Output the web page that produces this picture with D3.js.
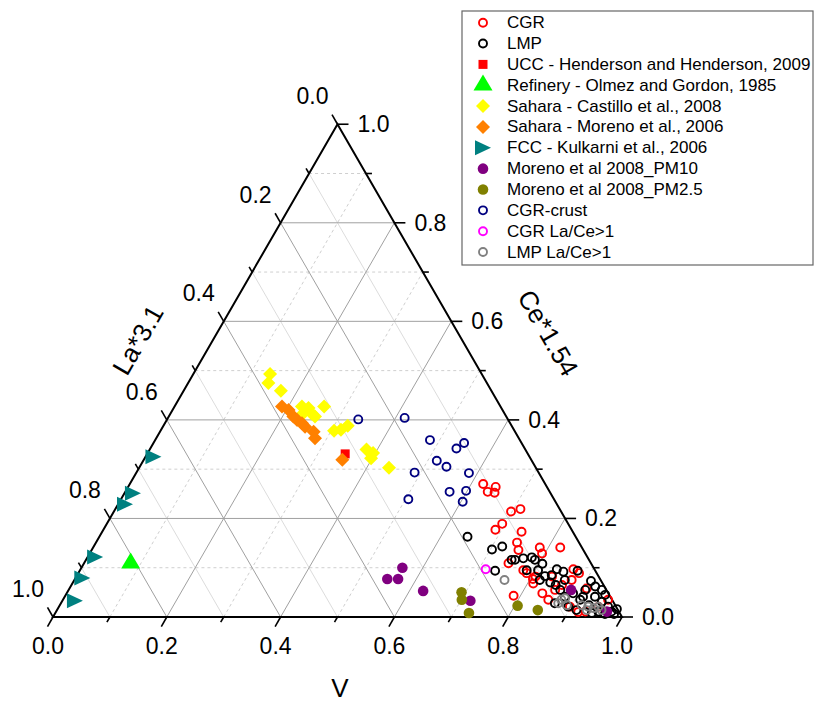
<!DOCTYPE html>
<html lang="en">
<head>
<meta charset="utf-8">
<title>Ternary plot V - Ce - La</title>
<script src="https://d3js.org/d3.v7.min.js"></script>
<style>
  body { margin: 0; background: #fff; }
  text { font-family: Arial, "Liberation Sans", sans-serif; fill: #000; }
</style>
</head>
<body>
<div id="chart"></div>
<script>
// axis ticks
var majorTicks = [0, 0.2, 0.4, 0.6, 0.8, 1.0];
var minorTicks = [0.1, 0.3, 0.5, 0.7, 0.9];
var tickLabels = ["0.0", "0.2", "0.4", "0.6", "0.8", "1.0"];

// every point is [V, Ce*1.54, La*3.1]
var cgr = [
  [0.621,0.270,0.109],[0.637,0.254,0.109],[0.646,0.264,0.090],[0.650,0.252,0.098],
  [0.698,0.214,0.088],[0.712,0.219,0.069],[0.695,0.189,0.116],[0.689,0.177,0.134],
  [0.737,0.173,0.090],[0.740,0.151,0.109],[0.750,0.136,0.114],[0.785,0.141,0.074],
  [0.795,0.129,0.076],[0.821,0.141,0.038],[0.746,0.109,0.145],[0.807,0.082,0.111],
  [0.779,0.095,0.126],[0.810,0.068,0.122],[0.836,0.048,0.116],[0.788,0.043,0.169],
  [0.866,0.097,0.037],[0.880,0.089,0.031],[0.874,0.075,0.051],[0.909,0.058,0.033],
  [0.898,0.021,0.081],[0.930,0.011,0.059],[0.948,0.021,0.031],[0.836,0.082,0.082],
  [0.788,0.089,0.123],[0.805,0.077,0.118],[0.855,0.055,0.090],[0.862,0.065,0.073],
  [0.853,0.035,0.112],[0.918,0.010,0.072],[0.958,0.035,0.007]
];
var lmp = [
  [0.647,0.163,0.190],[0.703,0.137,0.160],[0.718,0.143,0.139],[0.730,0.094,0.176],
  [0.754,0.116,0.130],[0.767,0.119,0.114],[0.781,0.121,0.098],[0.789,0.116,0.095],
  [0.806,0.108,0.086],[0.785,0.095,0.120],[0.805,0.095,0.100],[0.823,0.083,0.094],
  [0.839,0.070,0.091],[0.837,0.097,0.066],[0.851,0.092,0.057],[0.862,0.075,0.063],
  [0.851,0.065,0.084],[0.875,0.094,0.031],[0.909,0.073,0.018],[0.890,0.048,0.062],
  [0.911,0.041,0.048],[0.932,0.041,0.027],[0.949,0.031,0.020],[0.965,0.021,0.014],
  [0.976,0.011,0.013],[0.879,0.041,0.080],[0.868,0.028,0.104],[0.895,0.021,0.084],
  [0.913,0.014,0.073],[0.943,0.008,0.049],[0.953,0.011,0.036],[0.818,0.075,0.107],
  [0.834,0.085,0.081],[0.748,0.116,0.136],[0.908,0.055,0.037],[0.948,0.045,0.007],
  [0.983,0.006,0.011],[0.967,0.006,0.027],[0.983,0.016,0.001],[0.909,0.035,0.056],
  [0.930,0.024,0.046],[0.864,0.055,0.081],[0.937,0.055,0.008],[0.922,0.062,0.016]
];
var ucc = [[0.348,0.331,0.321]];
var refinery = [[0.082,0.109,0.809]];
var saharaCastillo = [
  [0.135,0.493,0.372],[0.141,0.475,0.384],[0.171,0.459,0.370],[0.224,0.427,0.349],
  [0.237,0.424,0.339],[0.248,0.413,0.339],[0.257,0.407,0.336],[0.263,0.427,0.310],
  [0.305,0.378,0.317],[0.316,0.380,0.304],[0.324,0.388,0.288],[0.381,0.340,0.279],
  [0.396,0.333,0.271],[0.398,0.322,0.280],[0.439,0.303,0.258],[0.233,0.413,0.354]
];
var saharaMoreno = [
  [0.189,0.427,0.384],[0.204,0.420,0.376],[0.219,0.407,0.374],[0.241,0.393,0.366],
  [0.250,0.386,0.364],[0.270,0.376,0.354],[0.279,0.363,0.358],[0.349,0.319,0.332],
  [0.229,0.400,0.371]
];
var fcc = [
  [0.014,0.325,0.661],[0.015,0.251,0.734],[0.012,0.229,0.759],
  [0.013,0.122,0.865],[0.012,0.079,0.909],[0.022,0.033,0.945]
];
var pm10 = [
  [0.564,0.100,0.336],[0.549,0.077,0.374],[0.568,0.077,0.355],[0.624,0.053,0.323],
  [0.717,0.033,0.250],[0.883,0.055,0.062],[0.968,0.011,0.021]
];
var pm25 = [
  [0.693,0.050,0.257],[0.701,0.035,0.264],[0.727,0.008,0.265],
  [0.805,0.023,0.172],[0.845,0.014,0.141]
];
var cgrCrust = [
  [0.336,0.401,0.263],[0.416,0.404,0.180],[0.483,0.359,0.158],[0.538,0.342,0.120],
  [0.546,0.353,0.101],[0.516,0.317,0.167],[0.539,0.305,0.156],[0.489,0.293,0.218],
  [0.585,0.292,0.123],[0.570,0.254,0.176],[0.598,0.256,0.146],[0.603,0.234,0.163],
  [0.505,0.239,0.256]
];
var cgrLaCe = [[0.712,0.097,0.191]];
var lmpLaCe = [
  [0.756,0.075,0.169],[0.876,0.035,0.089],[0.881,0.038,0.081],[0.874,0.028,0.098],
  [0.930,0.021,0.049],[0.941,0.018,0.041],[0.948,0.021,0.031],[0.957,0.014,0.029],
  [0.931,0.014,0.055],[0.917,0.024,0.059],[0.891,0.024,0.085]
];

var seriesNames = ["CGR", "LMP", "UCC - Henderson and Henderson, 2009",
  "Refinery - Olmez and Gordon, 1985", "Sahara - Castillo et al., 2008",
  "Sahara - Moreno et al., 2006", "FCC - Kulkarni et al., 2006",
  "Moreno et al 2008_PM10", "Moreno et al 2008_PM2.5", "CGR-crust",
  "CGR La/Ce>1", "LMP La/Ce>1"];
var seriesData = [cgr, lmp, ucc, refinery, saharaCastillo, saharaMoreno, fcc,
  pm10, pm25, cgrCrust, cgrLaCe, lmpLaCe];

// marker style per series
var styles = [
  {shape: "open", color: "#ff0000"},
  {shape: "open", color: "#000000"},
  {shape: "square", color: "#ff0000"},
  {shape: "triUp", color: "#00ff00"},
  {shape: "diamond", color: "#ffff00"},
  {shape: "diamond", color: "#ff8000"},
  {shape: "triRight", color: "#008080"},
  {shape: "dot", color: "#800080"},
  {shape: "dot", color: "#808000"},
  {shape: "open", color: "#000080"},
  {shape: "open", color: "#ff00ff"},
  {shape: "open", color: "#808080"}
];

var width = 816, height = 702;
var x0 = 53, y0 = 617, side = 569, tri = side * Math.sqrt(3) / 2;

var xScale = d3.scaleLinear().domain([0, 1]).range([x0, x0 + side]);
var yScale = d3.scaleLinear().domain([0, 1]).range([y0, y0 - tri]);

// ternary -> screen
function pos(v, c) { return [xScale(v + c / 2), yScale(c)]; }

var svg = d3.select("#chart").append("svg")
  .attr("width", width).attr("height", height);

var line = d3.line();

// grid
var grid = svg.append("g");
var allTicks = minorTicks.concat([0.2, 0.4, 0.6, 0.8]);
allTicks.forEach(function (t) {
  var major = majorTicks.indexOf(t) >= 0;
  // constant V
  grid.append("path")
    .attr("d", line([pos(t, 0), pos(t, 1 - t)]))
    .attr("stroke", major ? "#a0a0a0" : "#cfcfcf")
    .attr("stroke-dasharray", major ? null : "3,3");
  // constant Ce
  grid.append("path")
    .attr("d", line([pos(0, t), pos(1 - t, t)]))
    .attr("stroke", major ? "#a0a0a0" : "#cfcfcf")
    .attr("stroke-dasharray", major ? null : "3,3");
  // constant La
  grid.append("path")
    .attr("d", line([pos(0, 1 - t), pos(1 - t, 0)]))
    .attr("stroke", major ? "#a0a0a0" : "#dcdcdc");
});
grid.selectAll("path").attr("fill", "none").attr("stroke-width", 1);

// axes
var axes = svg.append("g").attr("stroke", "#000").attr("fill", "none");
axes.append("path")
  .attr("d", line([pos(0, 0), pos(1, 0), pos(0, 1)]) + "Z")
  .attr("stroke-width", 2);

var dirBottom = [-0.5, 0.866], dirLeft = [-0.5, -0.866], dirRight = [1, 0];
function tick(p, d, len) {
  axes.append("path")
    .attr("d", line([p, [p[0] + d[0] * len, p[1] + d[1] * len]]))
    .attr("stroke-width", 1.6);
}
majorTicks.forEach(function (t) {
  tick(pos(t, 0), dirBottom, 11);
  tick(pos(1 - t, t), dirRight, 11);
  tick(pos(0, 1 - t), dirLeft, 11);
});
minorTicks.forEach(function (t) {
  tick(pos(t, 0), dirBottom, 6);
  tick(pos(1 - t, t), dirRight, 6);
  tick(pos(0, 1 - t), dirLeft, 6);
});

// tick labels
var labels = svg.append("g").attr("font-size", 23);
majorTicks.forEach(function (t, i) {
  var b = pos(t, 0);
  labels.append("text").attr("x", b[0] - 5).attr("y", b[1] + 29)
    .attr("text-anchor", "middle").attr("dominant-baseline", "central")
    .text(tickLabels[i]);
  var r = pos(1 - t, t);
  labels.append("text").attr("x", r[0] + 20).attr("y", r[1])
    .attr("text-anchor", "start").attr("dominant-baseline", "central")
    .text(tickLabels[i]);
  var l = pos(0, 1 - t);
  labels.append("text").attr("x", l[0] - 25).attr("y", l[1] - 28)
    .attr("text-anchor", "middle").attr("dominant-baseline", "central")
    .text(tickLabels[i]);
});

// axis titles
svg.append("text").attr("x", 340).attr("y", 688)
  .attr("text-anchor", "middle").attr("dominant-baseline", "central")
  .attr("font-size", 26).text("V");
svg.append("text").attr("transform", "translate(138,340) rotate(-60)")
  .attr("text-anchor", "middle").attr("dominant-baseline", "central")
  .attr("font-size", 26).text("La*3.1");
svg.append("text").attr("transform", "translate(548,333) rotate(60)")
  .attr("text-anchor", "middle").attr("dominant-baseline", "central")
  .attr("font-size", 26).text("Ce*1.54");

// markers
function marker(sel, st) {
  var s = st.shape;
  if (s === "open") {
    sel.append("circle").attr("r", 4).attr("fill", "none")
      .attr("stroke", st.color).attr("stroke-width", 1.9);
  } else if (s === "dot") {
    sel.append("circle").attr("r", 5.3).attr("fill", st.color);
  } else if (s === "square") {
    sel.append("rect").attr("x", -4.5).attr("y", -4.5)
      .attr("width", 9).attr("height", 9).attr("fill", st.color);
  } else if (s === "diamond") {
    sel.append("path").attr("d", "M0,-7L7,0L0,7L-7,0Z").attr("fill", st.color);
  } else if (s === "triUp") {
    sel.append("path").attr("d", "M0,-10.7L9.5,5.3L-9.5,5.3Z").attr("fill", st.color);
  } else if (s === "triRight") {
    sel.append("path").attr("d", "M-8,-7.5L8,0L-8,7.5Z").attr("fill", st.color);
  }
}

var plot = svg.append("g");
seriesData.forEach(function (data, k) {
  plot.append("g").selectAll("g")
    .data(data).enter().append("g")
    .attr("transform", function (d) {
      var p = pos(d[0], d[1]);
      return "translate(" + p[0] + "," + p[1] + ")";
    })
    .each(function () { marker(d3.select(this), styles[k]); });
});

// legend
var legend = svg.append("g");
legend.append("rect").attr("x", 462).attr("y", 11)
  .attr("width", 351).attr("height", 254)
  .attr("fill", "#fff").attr("stroke", "#666").attr("stroke-width", 1.2);
seriesNames.forEach(function (name, i) {
  var y = 22.7 + i * 20.85;
  var g = legend.append("g").attr("transform", "translate(483," + y + ")");
  marker(g, styles[i]);
  legend.append("text").attr("x", 507).attr("y", y)
    .attr("dominant-baseline", "central").attr("font-size", 17)
    .text(name);
});
</script>
</body>
</html>
